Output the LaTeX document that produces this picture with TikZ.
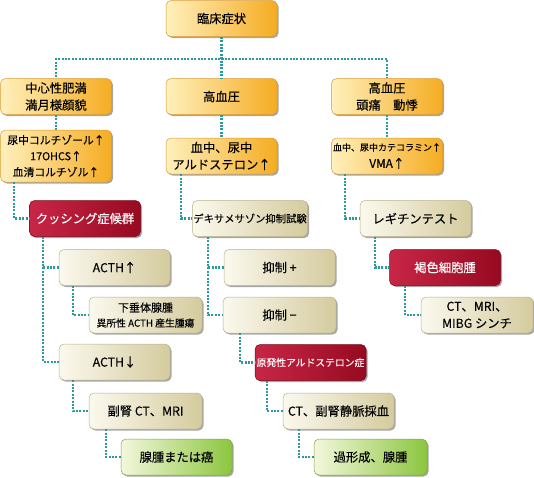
\documentclass[tikz,border=0pt]{standalone}
\usepackage{fontspec}
\setmainfont{Noto Sans CJK JP}[FakeBold=0.2]
\usetikzlibrary{shadows}
\definecolor{orL}{HTML}{FFF0BC}
\definecolor{orR}{HTML}{F5AC22}
\definecolor{orD}{HTML}{D99A30}
\definecolor{beL}{HTML}{FBF9EE}
\definecolor{beR}{HTML}{D4CB9E}
\definecolor{beD}{HTML}{B8B08A}
\definecolor{rdL}{HTML}{C82646}
\definecolor{rdR}{HTML}{960A20}
\definecolor{rdD}{HTML}{7A0818}
\definecolor{grL}{HTML}{F3F7DC}
\definecolor{grR}{HTML}{8CC63E}
\definecolor{grD}{HTML}{7AA840}
\definecolor{teal}{HTML}{2A9A9C}
\tikzset{
  basebox/.style={rectangle, rounded corners=5pt, minimum width=111pt, minimum height=36pt,
    inner sep=1pt, align=center, line width=0.5pt,
    font=\fontsize{12.3}{17}\selectfont,
    drop shadow={shadow xshift=1.5pt, shadow yshift=-1.5pt, opacity=0.35, fill=black}},
  obox/.style={basebox, left color=orL, right color=orR, draw=orD},
  bbox/.style={basebox, left color=beL, right color=beR, draw=beD},
  rbox/.style={basebox, left color=rdL, right color=rdR, draw=rdD, text=white},
  gbox/.style={basebox, left color=grL, right color=grR, draw=grD},
  conn/.style={draw=teal, line width=2.2pt, dash pattern=on 2pt off 1.4pt}
}
\begin{document}
\begin{tikzpicture}[x=1pt, y=-1pt]
\useasboundingbox (0,0) rectangle (534,477);
% row 0
\node[obox] (top) at (221.5,18.5) {臨床症状};
% row 1
\node[obox] (obes) at (56,96.5) {中心性肥満\\満月様顔貌};
\node[obox] (hyp1) at (221.5,96.5) {高血圧};
\node[obox] (hyp2) at (387,96.5) {高血圧\\頭痛\quad 動悸};
% row 2
\node[obox, minimum height=52pt, font=\fontsize{10.8}{16}\selectfont] (cort) at (56,156) {尿中コルチゾール↑\\17OHCS↑\\血清コルチゾル↑};
\node[obox] (ald) at (221.5,156) {血中、尿中\\アルドステロン↑};
\node[obox, font=\fontsize{9}{17}\selectfont] (cat) at (387,156) {血中、尿中カテコラミン↑\\{\fontsize{11.8}{17}\selectfont VMA↑}};
% row 3
\node[rbox] (cush) at (85,218.5) {クッシング症候群};
\node[bbox, font=\fontsize{10.3}{16}\selectfont] (dexa) at (250,218.5) {デキサメサゾン抑制試験};
\node[bbox] (reg) at (415.5,218.5) {レギチンテスト};
% row 4
\node[bbox] (acthu) at (114.5,267.5) {ACTH↑};
\node[bbox] (supp1) at (279.5,267.5) {抑制 +};
\node[rbox] (pheo) at (445,267.5) {褐色細胞腫};
% row 5
\node[bbox, minimum width=113pt, font=\fontsize{11}{15}\selectfont] (pit) at (145.5,315) {下垂体腺腫\\{\fontsize{9.8}{15}\selectfont 異所性 ACTH 産生腫瘍}};
\node[bbox, minimum width=113pt] (supp2) at (279.5,315) {抑制 −};
\node[bbox, minimum width=112pt] (mibg) at (477,315) {CT、MRI、\\MIBG シンチ};
% row 6
\node[bbox] (acthd) at (114.5,362) {ACTH↓};
\node[rbox, font=\fontsize{9.8}{16}\selectfont] (gen) at (310.5,362.5) {原発性アルドステロン症};
% row 7
\node[bbox, minimum width=113pt] (adct) at (145.5,411) {副腎 CT、MRI};
\node[bbox] (ctad) at (338.5,411) {CT、副腎静脈採血};
% row 8
\node[gbox] (ad) at (176.5,457) {腺腫または癌};
\node[gbox, minimum width=113pt] (hyper) at (370.5,457) {過形成、腺腫};
% connectors
\draw[conn] (top.south) |- (56,59) -- (obes.north);
\draw[conn] (top.south) -- (hyp1.north);
\draw[conn] (top.south |- 0,59) -| (hyp2.north);
\draw[conn] (obes.south) -- (cort.north);
\draw[conn] (hyp1.south) -- (ald.north);
\draw[conn] (hyp2.south) -- (cat.north);
\draw[conn] ([xshift=14pt]cort.south west) |- (cush.west);
\draw[conn] ([xshift=15pt]ald.south west) |- (dexa.west);
\draw[conn] ([xshift=14pt]cat.south west) |- (reg.west);
\coordinate (c1) at ([xshift=14pt]cush.south west);
\draw[conn] (c1) |- (acthd.west);
\draw[conn] (c1 |- acthu.west) -- (acthu.west);
\draw[conn] ([xshift=14pt]acthu.south west) |- (pit.west);
\draw[conn] ([xshift=14pt]acthd.south west) |- (adct.west);
\draw[conn] ([xshift=17pt]adct.south west) |- (ad.west);
\coordinate (c2) at ([xshift=16pt]dexa.south west);
\draw[conn] (c2) |- (supp2.west);
\draw[conn] (c2 |- supp1.west) -- (supp1.west);
\draw[conn] ([xshift=17pt]supp2.south west) |- (gen.west);
\draw[conn] ([xshift=12pt]gen.south west) |- (ctad.west);
\draw[conn] ([xshift=16pt]ctad.south west) |- (hyper.west);
\draw[conn] ([xshift=15pt]reg.south west) |- (pheo.west);
\draw[conn] ([xshift=16pt]pheo.south west) |- (mibg.west);
\end{tikzpicture}
\end{document}
